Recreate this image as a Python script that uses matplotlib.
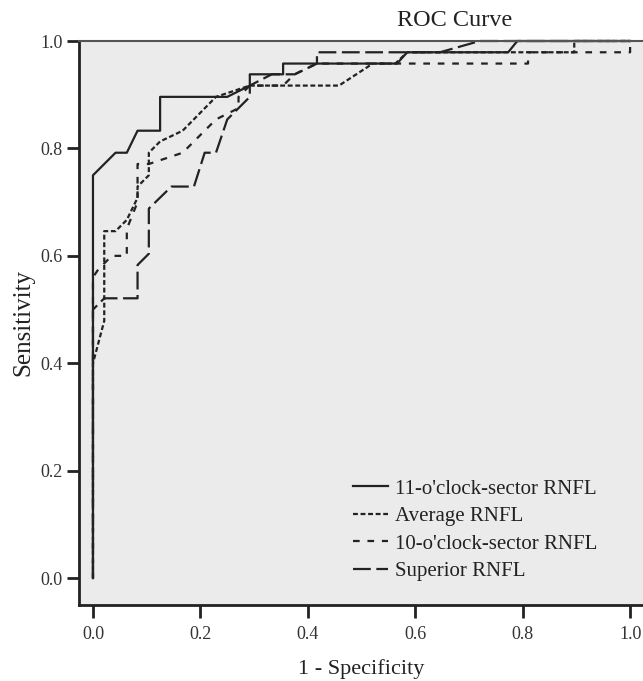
import matplotlib
matplotlib.use("Agg")
import matplotlib.pyplot as plt

# ---- data (1 - specificity, sensitivity) ----
labels = ["11-o'clock-sector RNFL", "Average RNFL", "10-o'clock-sector RNFL", "Superior RNFL"]

fpr_11 = [0, 0, 0.042, 0.063, 0.083, 0.125, 0.125, 0.25, 0.292, 0.292, 0.354, 0.354, 0.566, 0.585, 0.773, 0.79, 1.0]
tpr_11 = [0, 0.75, 0.792, 0.792, 0.833, 0.833, 0.896, 0.896, 0.917, 0.938, 0.938, 0.958, 0.958, 0.979, 0.979, 1.0, 1.0]

fpr_avg = [0, 0, 0.021, 0.021, 0.042, 0.063, 0.083, 0.083, 0.104, 0.104, 0.125, 0.167, 0.229, 0.292, 0.458, 0.521, 0.563, 0.585, 0.896, 0.896, 1.0]
tpr_avg = [0, 0.40, 0.479, 0.646, 0.646, 0.667, 0.708, 0.729, 0.75, 0.792, 0.813, 0.833, 0.896, 0.917, 0.917, 0.958, 0.958, 0.979, 0.979, 1.0, 1.0]

fpr_10 = [0, 0, 0.01, 0.035, 0.063, 0.063, 0.083, 0.083, 0.104, 0.167, 0.229, 0.271, 0.271, 0.292, 0.354, 0.375, 0.417, 0.81, 0.81, 1.0, 1.0]
tpr_10 = [0, 0.56, 0.575, 0.60, 0.60, 0.65, 0.70, 0.771, 0.771, 0.792, 0.854, 0.875, 0.896, 0.917, 0.917, 0.938, 0.958, 0.958, 0.979, 0.979, 1.0]

fpr_sup = [0, 0, 0.021, 0.083, 0.083, 0.104, 0.104, 0.146, 0.188, 0.208, 0.229, 0.25, 0.292, 0.292, 0.333, 0.376, 0.417, 0.417, 0.646, 0.72, 1.0]
tpr_sup = [0, 0.50, 0.521, 0.521, 0.583, 0.604, 0.688, 0.729, 0.729, 0.792, 0.792, 0.854, 0.896, 0.917, 0.938, 0.938, 0.958, 0.979, 0.979, 1.0, 1.0]

xticks = [0.0, 0.2, 0.4, 0.6, 0.8, 1.0]
yticks = [0.0, 0.2, 0.4, 0.6, 0.8, 1.0]

# ---- figure ----
plt.rcParams['font.family'] = ['Liberation Serif', 'DejaVu Serif']
fig = plt.figure(figsize=(6.43, 6.81), dpi=100)
ax = fig.add_axes([79/643, 76/681, 1 - 79/643, 564/681])
ax.set_facecolor('#ebebeb')

lc = '#222222'
lw = 1.6
ax.plot(fpr_11, tpr_11, color=lc, lw=lw, ls='-', label=labels[0], clip_on=False)
ax.plot(fpr_avg, tpr_avg, color=lc, lw=lw, ls=(0, (2.2, 1.2)), label=labels[1], clip_on=False)
ax.plot(fpr_10, tpr_10, color=lc, lw=lw, ls=(0, (3.0, 3.5)), label=labels[2], clip_on=False)
ax.plot(fpr_sup, tpr_sup, color=lc, lw=lw, ls=(0, (8.0, 2.5)), label=labels[3], clip_on=False)

ax.set_xlim(-0.026, 1.024)
ax.set_ylim(-0.050, 1.0)
ax.set_xticks(xticks)
ax.set_yticks(yticks)
ax.set_xticklabels([f"{t:.1f}" for t in xticks], fontsize=13, color='#333333')
ax.set_yticklabels([f"{t:.1f}" for t in yticks], fontsize=13, color='#333333')
ax.tick_params(axis='y', length=9, width=2, color='#222222', pad=3)
ax.tick_params(axis='x', length=9, width=2, color='#222222', pad=6)

for s in ['left', 'bottom']:
    ax.spines[s].set_linewidth(2)
    ax.spines[s].set_color('#222222')
ax.spines['top'].set_linewidth(1.5)
ax.spines['top'].set_color('#555555')
ax.spines['right'].set_visible(False)

ax.set_xlabel('1 - Specificity', fontsize=16, color='#222222', labelpad=12)
ax.set_ylabel('Sensitivity', fontsize=18, color='#222222', labelpad=4)
fig.text(455/643, 1 - 20/681, 'ROC Curve', fontsize=17.5, color='#222222', ha='center', va='center')

leg = ax.legend(loc='upper left', bbox_to_anchor=((353-79)/564, (605-479)/564), frameon=False,
                fontsize=15, handlelength=1.7, handletextpad=0.3, labelspacing=0.38, borderpad=0,
                borderaxespad=0)
for t in leg.get_texts():
    t.set_color('#222222')

fig.savefig('out.png', dpi=100)
